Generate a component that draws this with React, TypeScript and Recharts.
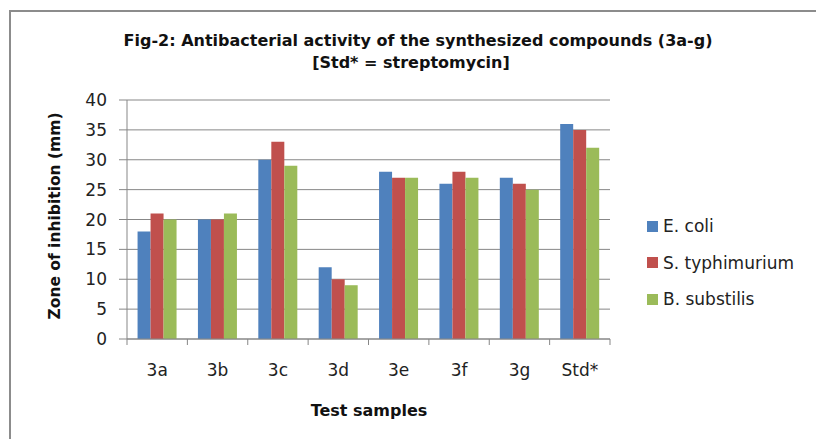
import { BarChart, Bar, XAxis, YAxis, CartesianGrid, Legend } from 'recharts';

const SAMPLES = ['3a', '3b', '3c', '3d', '3e', '3f', '3g', 'Std*'];
const E_COLI = [18, 20, 30, 12, 28, 26, 27, 36];
const S_TYPHIMURIUM = [21, 20, 33, 10, 27, 28, 26, 35];
const B_SUBSTILIS = [20, 21, 29, 9, 27, 27, 25, 32];
const Y_TICKS = [0, 5, 10, 15, 20, 25, 30, 35, 40];

const SERIES = [
  { key: 'ecoli', name: 'E. coli', color: '#4F81BD', values: E_COLI },
  { key: 'styphi', name: 'S. typhimurium', color: '#C0504D', values: S_TYPHIMURIUM },
  { key: 'bsubt', name: 'B. substilis', color: '#9BBB59', values: B_SUBSTILIS },
];

const data = SAMPLES.map((sample, i) => {
  const row: Record<string, string | number> = { sample };
  SERIES.forEach((s) => {
    row[s.key] = s.values[i];
  });
  return row;
});

const W = 816;
const H = 439;
const PLOT_LEFT = 127;
const PLOT_RIGHT = 610;
const BAND = (PLOT_RIGHT - PLOT_LEFT) / SAMPLES.length;
const GRID = '#878787';
const FONT = 'DejaVu Sans';

function SampleTick(props: any) {
  const { x, y, payload, index } = props;
  const half = BAND / 2;
  return (
    <g>
      <line x1={x - half} x2={x - half} y1={y} y2={y + 6} stroke={GRID} />
      {index === SAMPLES.length - 1 && (
        <line x1={x + half} x2={x + half} y1={y} y2={y + 6} stroke={GRID} />
      )}
      <text x={x} y={y + 37} textAnchor="middle" fontSize={17} fill="#222" fontFamily={FONT}>
        {payload.value}
      </text>
    </g>
  );
}

function LegendBox(props: any) {
  const items = [...(props.payload || [])].sort(
    (a: any, b: any) =>
      SERIES.findIndex((s) => s.name === a.value) - SERIES.findIndex((s) => s.name === b.value)
  );
  return (
    <div style={{ fontFamily: FONT, fontSize: 17, color: '#222' }}>
      {items.map((p: any) => (
        <div key={p.value} style={{ height: 36.5, display: 'flex', alignItems: 'center' }}>
          <span style={{ width: 11, height: 11, background: p.color, marginRight: 5, display: 'inline-block' }} />
          <span style={{ whiteSpace: 'nowrap' }}>{p.value}</span>
        </div>
      ))}
    </div>
  );
}

export default function App() {
  return (
    <div style={{ position: 'absolute', left: 0, top: 0, width: W, height: H, background: '#fff', overflow: 'hidden' }}>
      <div
        style={{
          position: 'absolute',
          left: 9,
          top: 10,
          width: W,
          height: H,
          borderLeft: '2px solid #8c8c8c',
          borderTop: '2px solid #8c8c8c',
        }}
      />
      <BarChart
        width={W}
        height={H}
        data={data}
        margin={{ top: 100, right: W - PLOT_RIGHT, bottom: 60, left: 0 }}
        barGap={0}
        barCategoryGap="17.5%"
        style={{ position: 'absolute', left: 0, top: 0 }}
      >
        <CartesianGrid vertical={false} stroke={GRID} strokeDasharray="" />
        <XAxis
          dataKey="sample"
          height={40}
          tickSize={0}
          tickMargin={0}
          tickLine={false}
          axisLine={{ stroke: GRID }}
          tick={<SampleTick />}
          interval={0}
        />
        <YAxis
          width={PLOT_LEFT}
          domain={[0, 40]}
          ticks={Y_TICKS}
          interval={0}
          tickSize={8}
          tickMargin={12}
          tickLine={{ stroke: GRID }}
          axisLine={{ stroke: GRID }}
          tick={{ fontSize: 17, fill: '#222', fontFamily: FONT }}
        />
        <Legend
          layout="vertical"
          align="center"
          verticalAlign="middle"
          content={<LegendBox />}
          wrapperStyle={{ position: 'absolute', left: 647, top: 208, width: 170 }}
        />
        {SERIES.map((s) => (
          <Bar key={s.key} dataKey={s.key} name={s.name} fill={s.color} isAnimationActive={false} />
        ))}
      </BarChart>
      <svg width={W} height={H} style={{ position: 'absolute', left: 0, top: 0, pointerEvents: 'none' }}>
        <g fontFamily={FONT} fontWeight="bold" fill="#111" fontSize={16}>
          <text x={418} y={46} textAnchor="middle">
            Fig-2: Antibacterial activity of the synthesized compounds (3a-g)
          </text>
          <text x={411} y={68} textAnchor="middle">
            [Std* = streptomycin]
          </text>
          <text x={369} y={416} textAnchor="middle">
            Test samples
          </text>
          <text x={54} y={216} dy="0.36em" textAnchor="middle" transform="rotate(-90, 54, 216)" fontSize={15.5}>
            Zone of inhibition (mm)
          </text>
        </g>
      </svg>
    </div>
  );
}
